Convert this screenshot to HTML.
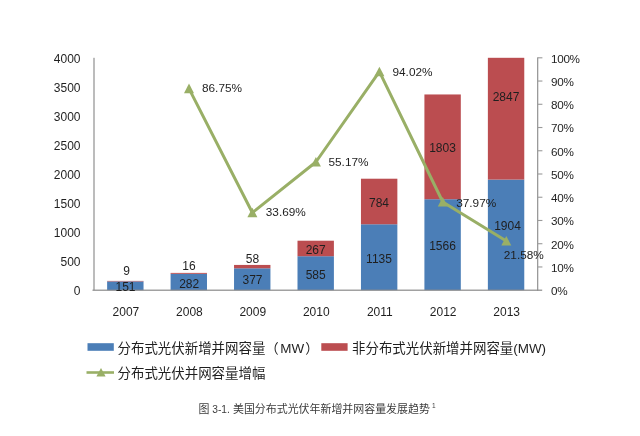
<!DOCTYPE html>
<html lang="zh"><head><meta charset="utf-8"><title>图 3-1. 美国分布式光伏年新增并网容量发展趋势</title>
<style>html,body{margin:0;padding:0;background:#fff}body{width:640px;height:436px;overflow:hidden}svg{display:block}text{font-family:"Liberation Sans","Noto Sans CJK SC",sans-serif;fill:#1f1f1f}.n{font-size:12.0px}.l{font-size:13.45px}.c{font-size:10.95px;fill:#3c3c3c}</style></head><body>
<svg width="640" height="436" viewBox="0 0 640 436">
<rect width="640" height="436" fill="#fff"/>
<rect x="107.13" y="281.43" width="36.40" height="8.77" fill="#4b7eb7"/>
<rect x="107.13" y="280.90" width="36.40" height="0.52" fill="#bb4d50"/>
<rect x="170.59" y="273.82" width="36.40" height="16.38" fill="#4b7eb7"/>
<rect x="170.59" y="272.89" width="36.40" height="0.93" fill="#bb4d50"/>
<rect x="234.04" y="268.30" width="36.40" height="21.90" fill="#4b7eb7"/>
<rect x="234.04" y="264.93" width="36.40" height="3.37" fill="#bb4d50"/>
<rect x="297.50" y="256.21" width="36.40" height="33.99" fill="#4b7eb7"/>
<rect x="297.50" y="240.70" width="36.40" height="15.51" fill="#bb4d50"/>
<rect x="360.96" y="224.26" width="36.40" height="65.94" fill="#4b7eb7"/>
<rect x="360.96" y="178.71" width="36.40" height="45.55" fill="#bb4d50"/>
<rect x="424.41" y="199.22" width="36.40" height="90.98" fill="#4b7eb7"/>
<rect x="424.41" y="94.46" width="36.40" height="104.75" fill="#bb4d50"/>
<rect x="487.87" y="179.58" width="36.40" height="110.62" fill="#4b7eb7"/>
<rect x="487.87" y="57.80" width="36.40" height="121.78" fill="#bb4d50"/>
<rect x="93" y="57.8" width="2" height="232.4" fill="#bcbcbc"/>
<rect x="537" y="57.3" width="1.3" height="233.4" fill="#9a9a9a"/>
<rect x="92.5" y="289.6" width="449.7" height="1.2" fill="#8a8a8a"/>
<rect x="538" y="266.41" width="4.4" height="1.1" fill="#9a9a9a"/>
<rect x="538" y="243.17" width="4.4" height="1.1" fill="#9a9a9a"/>
<rect x="538" y="219.93" width="4.4" height="1.1" fill="#9a9a9a"/>
<rect x="538" y="196.69" width="4.4" height="1.1" fill="#9a9a9a"/>
<rect x="538" y="173.45" width="4.4" height="1.1" fill="#9a9a9a"/>
<rect x="538" y="150.21" width="4.4" height="1.1" fill="#9a9a9a"/>
<rect x="538" y="126.97" width="4.4" height="1.1" fill="#9a9a9a"/>
<rect x="538" y="103.73" width="4.4" height="1.1" fill="#9a9a9a"/>
<rect x="538" y="80.49" width="4.4" height="1.1" fill="#9a9a9a"/>
<rect x="538" y="57.25" width="4.4" height="1.1" fill="#9a9a9a"/>
<polyline points="189.0,88.6 252.4,212.7 315.9,162.0 379.4,71.7 442.8,202.0 506.3,241.0" fill="none" stroke="#99af66" stroke-width="3" stroke-linejoin="round"/>
<path d="M189.0 83.6l5 9.6h-10z" fill="#99af66"/>
<path d="M252.4 207.7l5 9.6h-10z" fill="#99af66"/>
<path d="M315.9 157.0l5 9.6h-10z" fill="#99af66"/>
<path d="M379.4 66.7l5 9.6h-10z" fill="#99af66"/>
<path d="M442.8 197.0l5 9.6h-10z" fill="#99af66"/>
<path d="M506.3 236.0l5 9.6h-10z" fill="#99af66"/>
<g class="n" text-anchor="end">
<text x="80.5" y="295.0">0</text>
<text x="80.5" y="265.9">500</text>
<text x="80.5" y="236.9">1000</text>
<text x="80.5" y="207.8">1500</text>
<text x="80.5" y="178.8">2000</text>
<text x="80.5" y="149.7">2500</text>
<text x="80.5" y="120.7">3000</text>
<text x="80.5" y="91.6">3500</text>
<text x="80.5" y="62.6">4000</text>
</g>
<g class="n" style="font-size:11.7px;letter-spacing:-0.3px">
<text x="551" y="295.0">0%</text>
<text x="551" y="271.8">10%</text>
<text x="551" y="248.5">20%</text>
<text x="551" y="225.3">30%</text>
<text x="551" y="202.0">40%</text>
<text x="551" y="178.8">50%</text>
<text x="551" y="155.6">60%</text>
<text x="551" y="132.3">70%</text>
<text x="551" y="109.1">80%</text>
<text x="551" y="85.8">90%</text>
<text x="551" y="62.6">100%</text>
</g>
<g class="n" text-anchor="middle">
<text x="125.9" y="316.3">2007</text>
<text x="189.4" y="316.3">2008</text>
<text x="252.8" y="316.3">2009</text>
<text x="316.3" y="316.3">2010</text>
<text x="379.8" y="316.3">2011</text>
<text x="443.2" y="316.3">2012</text>
<text x="506.7" y="316.3">2013</text>
<text x="125.5" y="290.9">151</text>
<text x="126.5" y="274.9">9</text>
<text x="189.2" y="287.5">282</text>
<text x="189.0" y="269.9">16</text>
<text x="252.5" y="283.8">377</text>
<text x="252.5" y="263.0">58</text>
<text x="315.7" y="278.5">585</text>
<text x="315.7" y="253.8">267</text>
<text x="379.0" y="262.5">1135</text>
<text x="379.0" y="206.8">784</text>
<text x="442.5" y="249.8">1566</text>
<text x="442.5" y="151.8">1803</text>
<text x="507.5" y="230.0">1904</text>
<text x="506.0" y="101.3">2847</text>
</g>
<g class="n" style="font-size:11.8px">
<text x="202.0" y="92.4">86.75%</text>
<text x="265.8" y="216.2">33.69%</text>
<text x="328.5" y="166.2">55.17%</text>
<text x="392.5" y="76.2">94.02%</text>
<text x="456.2" y="206.7">37.97%</text>
<text x="503.8" y="259.2">21.58%</text>
</g>
<rect x="87.5" y="343.2" width="26.3" height="7.6" fill="#4b7eb7"/>
<rect x="321.3" y="343.2" width="26.3" height="7.6" fill="#bb4d50"/>
<path d="M86.5 372.5h27.5" stroke="#99af66" stroke-width="2.6" fill="none"/>
<path d="M101 368l4.6 8.6h-9.2z" fill="#99af66"/>
<g class="l">
<text x="117.5" y="352.8">分布式光伏新增并网容量（<tspan dx="1.6">MW</tspan><tspan dx="1">）</tspan></text>
<text x="352" y="352.8">非分布式光伏新增并网容量(MW)</text>
<text x="117.5" y="377.6">分布式光伏并网容量增幅</text>
</g>
<text class="c" y="412.8"><tspan x="198.6">图</tspan> <tspan x="212.3" font-size="10.2">3-1.</tspan> <tspan x="233">美国分布式光伏年新增并网容量发展趋势</tspan><tspan dy="-4.5" dx="2.2" font-size="6.5">1</tspan></text>
</svg></body></html>
